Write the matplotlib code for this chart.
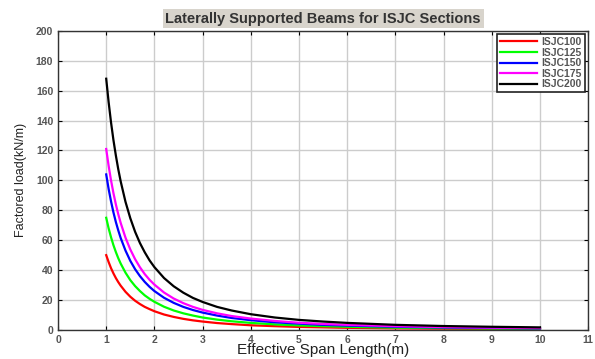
import matplotlib
matplotlib.use('Agg')
import matplotlib.pyplot as plt

# span (m) and factored load (kN/m)
span = [1, 1.05, 1.1, 1.15, 1.2, 1.25, 1.3, 1.4, 1.5, 1.6, 1.7, 1.8, 1.9, 2,
        2.2, 2.4, 2.6, 2.8, 3, 3.3, 3.6, 4, 4.5, 5, 5.5, 6, 7, 8, 9, 10]
isjc100 = [50, 45.4, 41.3, 37.8, 34.7, 32.0, 29.6, 25.5, 22.2, 19.5, 17.3, 15.4,
           13.9, 12.5, 10.3, 8.7, 7.4, 6.4, 5.6, 4.6, 3.9, 3.1, 2.5, 2.0, 1.7,
           1.4, 1.0, 0.8, 0.6, 0.5]
isjc125 = [75, 68.0, 62.0, 56.7, 52.1, 48.0, 44.4, 38.3, 33.3, 29.3, 26.0, 23.1,
           20.8, 18.8, 15.5, 13.0, 11.1, 9.6, 8.3, 6.9, 5.8, 4.7, 3.7, 3.0, 2.5,
           2.1, 1.5, 1.2, 0.9, 0.75]
isjc150 = [104, 94.3, 86.0, 78.6, 72.2, 66.6, 61.5, 53.1, 46.2, 40.6, 36.0, 32.1,
           28.8, 26.0, 21.5, 18.1, 15.4, 13.3, 11.6, 9.6, 8.0, 6.5, 5.1, 4.2, 3.4,
           2.9, 2.1, 1.6, 1.3, 1.0]
isjc175 = [121, 109.8, 100.0, 91.5, 84.0, 77.4, 71.6, 61.7, 53.8, 47.3, 41.9, 37.3,
           33.5, 30.3, 25.0, 21.0, 17.9, 15.4, 13.4, 11.1, 9.3, 7.6, 6.0, 4.8, 4.0,
           3.4, 2.5, 1.9, 1.5, 1.2]
isjc200 = [168, 152.4, 138.8, 127.0, 116.7, 107.5, 99.4, 85.7, 74.7, 65.6, 58.1, 51.9,
           46.5, 42.0, 34.7, 29.2, 24.9, 21.4, 18.7, 15.4, 13.0, 10.5, 8.3, 6.7, 5.6,
           4.7, 3.4, 2.6, 2.1, 1.7]

names = ['ISJC100', 'ISJC125', 'ISJC150', 'ISJC175', 'ISJC200']
colors = ['#ff0000', '#00ff00', '#0000ff', '#ff00ff', '#000000']

plt.rcParams['font.family'] = ['Liberation Sans', 'DejaVu Sans']

fig = plt.figure(figsize=(5.95, 3.59), dpi=100)
ax = fig.add_axes([0.0975, 0.081, 0.891, 0.833])

for vals, name, c in zip([isjc100, isjc125, isjc150, isjc175, isjc200], names, colors):
    ax.plot(span, vals, color=c, lw=1.6, label=name)

ax.set_xlim(0, 11)
ax.set_ylim(0, 200)
ax.set_xticks(range(0, 12))
ax.set_yticks(range(0, 201, 20))
ax.grid(True, color='#cccccc', lw=1)
ax.set_axisbelow(True)
ax.tick_params(direction='in', top=True, right=True, labelsize=7.5,
               labelcolor='#555555', length=3)
for lbl in ax.get_xticklabels() + ax.get_yticklabels():
    lbl.set_fontweight('bold')
for s in ax.spines.values():
    s.set_color('#333333')
    s.set_linewidth(1)

ax.set_xlabel('Effective Span Length(m)', fontsize=11, labelpad=-1,
              color='#222222')
ax.set_ylabel('Factored load(kN/m)', fontsize=9, labelpad=6, color='#222222')
ax.set_title('Laterally Supported Beams for ISJC Sections', fontsize=10.5,
             fontweight='bold', color='#333333', pad=6,
             bbox=dict(facecolor='#d8d4cc', edgecolor='none', pad=2))

leg = ax.legend(loc='upper right', prop={'size': 7.5, 'weight': 'bold'},
                handlelength=3.6, labelspacing=0.05, borderpad=0.3,
                handletextpad=0.4, fancybox=False, framealpha=1,
                borderaxespad=0.3)
leg.get_frame().set_edgecolor('#222222')
leg.get_frame().set_linewidth(1.2)
for t in leg.get_texts():
    t.set_color('#555555')

plt.savefig('out.png', dpi=100)
plt.close()
